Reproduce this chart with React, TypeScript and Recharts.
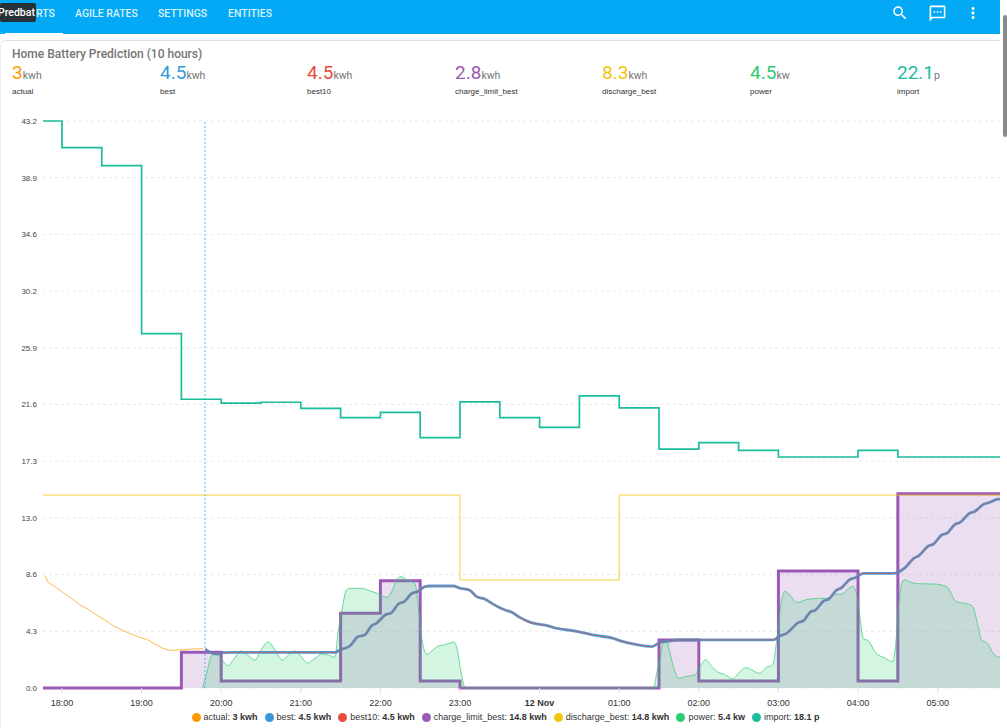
import { Area, CartesianGrid, ComposedChart, Legend, Line, ReferenceLine, XAxis, YAxis } from 'recharts'

type Point = [number, number]

// all times are minutes after 18:00 on 11 Nov
const startMinute = -14.3
const endMinute = 707
const nowMinute = 107.8

const timeTicks = [0, 60, 120, 180, 240, 300, 360, 420, 480, 540, 600, 660]
const timeLabels = ['18:00', '19:00', '20:00', '21:00', '22:00', '23:00', '12 Nov', '01:00', '02:00', '03:00', '04:00', '05:00']
const valueTicks = [0, 4.32, 8.64, 12.96, 17.28, 21.6, 25.92, 30.24, 34.56, 38.88, 43.2]

const navTabs = [
  { label: 'RTS', x: 36 },
  { label: 'AGILE RATES', x: 75 },
  { label: 'SETTINGS', x: 158 },
  { label: 'ENTITIES', x: 228 },
]

const summary = [
  { name: 'actual', value: '3', unit: 'kwh', color: '#ff9800', x: 12 },
  { name: 'best', value: '4.5', unit: 'kwh', color: '#3498db', x: 160 },
  { name: 'best10', value: '4.5', unit: 'kwh', color: '#e74c3c', x: 307 },
  { name: 'charge_limit_best', value: '2.8', unit: 'kwh', color: '#9b59b6', x: 455 },
  { name: 'discharge_best', value: '8.3', unit: 'kwh', color: '#f1c40f', x: 602 },
  { name: 'power', value: '4.5', unit: 'kw', color: '#2ecc71', x: 750 },
  { name: 'import', value: '22.1', unit: 'p', color: '#1abc9c', x: 897 },
]

const legendItems = [
  { label: 'actual:', value: '3 kwh', color: '#ff9800' },
  { label: 'best:', value: '4.5 kwh', color: '#3498db' },
  { label: 'best10:', value: '4.5 kwh', color: '#e74c3c' },
  { label: 'charge_limit_best:', value: '14.8 kwh', color: '#9b59b6' },
  { label: 'discharge_best:', value: '14.8 kwh', color: '#f1c40f' },
  { label: 'power:', value: '5.4 kw', color: '#2ecc71' },
  { label: 'import:', value: '18.1 p', color: '#1abc9c' },
]

const actual: Point[] = [
  [-12.6, 8.53], [-10.8, 8.1], [-5.3, 7.72], [1, 7.26], [7.3, 6.83], [13.6, 6.32], [19.8, 6.0], [26, 5.56],
  [32.4, 5.18], [38.7, 4.75], [45, 4.42], [51, 4.16], [57.5, 3.9], [64, 3.7], [70, 3.35], [76, 3.02],
  [81.4, 2.87], [89, 2.9], [98, 2.97], [106.5, 3.0],
]

const best: Point[] = [
  [108, 2.97], [111.6, 2.72], [117, 2.59], [121.6, 2.69], [130, 2.72], [206, 2.72], [209.5, 2.9], [217, 3.2],
  [223, 3.9], [228, 4.04], [233.5, 4.75], [237, 4.93], [243.5, 5.56], [248.5, 5.74], [253.5, 6.4], [258, 6.58],
  [263.6, 7.2], [268, 7.34], [273.6, 7.72], [277, 7.77], [295, 7.77], [300, 7.6], [307, 7.47], [312.6, 6.96],
  [319, 6.76], [324, 6.45], [330, 6.12], [334, 5.94], [339, 5.77], [345, 5.38], [353, 5.0], [365, 4.77],
  [373, 4.55], [388, 4.32], [400, 4.04], [415.6, 3.78], [423, 3.53], [433, 3.3], [444.5, 3.15], [451, 3.48],
  [458, 3.58], [464, 3.66], [536, 3.66], [541, 3.96], [546, 4.16], [555, 4.98], [559, 5.13], [564, 5.79],
  [568, 5.94], [574, 6.63], [578, 6.78], [584, 7.47], [587, 7.6], [594, 8.28], [598, 8.4], [604, 8.73],
  [627, 8.73], [635.5, 9.17], [642, 9.88], [645.5, 10.06], [653, 10.82], [657, 10.97], [663, 11.66], [667, 11.79],
  [673, 12.46], [677, 12.62], [684, 13.31], [687.6, 13.43], [694.6, 14.0], [699.5, 14.15], [704.6, 14.38], [707, 14.4],
]

const chargeLimit: Point[] = [
  [-14.3, 0], [90, 2.72], [120, 0.53], [210, 5.69], [240, 8.18], [270, 0.53], [300, 0], [450, 3.66],
  [480, 0.53], [540, 8.91], [600, 0.53], [630, 14.8], [707, 14.8],
]

const dischargeLimit: Point[] = [
  [-14.3, 14.7], [300, 8.23], [420, 14.7], [707, 14.7],
]

const power: Point[] = [
  [106, 0], [109, 1.1], [113, 2.5], [117, 2.6], [120, 2.26], [125, 1.7], [129, 2.13], [135, 2.82], [140, 2.5],
  [145.5, 2.13], [150, 2.9], [155.5, 3.5], [160.6, 2.9], [166, 2.13], [170.6, 2.5], [175, 2.82], [179.5, 2.5],
  [185, 1.9], [190.7, 2.26], [196, 2.6], [200.7, 2.5], [205.8, 2.34], [208, 4.16], [211, 5.94], [214.6, 7.5],
  [218, 7.6], [226, 7.6], [232, 7.4], [238, 7.2], [245, 6.9], [248.5, 7.34], [253, 8.36], [255.5, 8.48], [260, 8.23],
  [266, 7.97], [268.6, 6.2], [271, 3.9], [275, 2.57], [278.6, 2.82], [283.6, 3.2], [288.7, 3.3], [295.5, 3.5],
  [297.5, 3.1], [301, 1.1], [304, 0], [446, 0], [448, 1.0], [451, 2.4], [453, 3.4], [456, 3.53], [458, 2.77],
  [462, 1.24], [464.6, 0.74], [469.6, 0.86], [477, 1.0], [481, 1.62], [485, 2.16], [490, 1.62], [495, 1.17],
  [498.6, 1.07], [505.6, 0.71], [511, 1.24], [515.4, 1.55], [521, 1.32], [525.6, 1.12], [531, 1.58], [535.7, 1.75],
  [539, 3.9], [542, 6.45], [545, 7.36], [548, 7.14], [554, 6.52], [561, 6.73], [571, 6.83], [576, 6.83], [583, 7.14],
  [588, 7.16], [593, 7.6], [596, 7.75], [598.5, 7.34], [601, 5.7], [604, 3.78], [608, 3.58], [613.6, 2.64], [620, 2.31],
  [626, 2.0], [628, 2.9], [630.5, 6.2], [633, 7.97], [635, 8.25], [639, 8.1], [644, 7.95], [658, 7.92], [667, 7.7],
  [674, 6.58], [680.6, 6.45], [686, 6.27], [690, 4.93], [693, 3.66], [697, 3.45], [703, 2.5], [707, 2.34],
]

const importRate: Point[] = [
  [-14.3, 43.2], [0, 41.17], [30, 39.8], [60, 27.0], [90, 22.0], [120, 21.7], [150, 21.77], [180, 21.3], [210, 20.6],
  [240, 21.0], [270, 19.07], [300, 21.8], [330, 20.6], [360, 19.85], [390, 22.25], [420, 21.35], [450, 18.2],
  [480, 18.7], [510, 18.1], [540, 17.6], [600, 18.1], [630, 17.6], [707, 17.6],
]

const seriesByKey: Record<string, Point[]> = {
  actual,
  best,
  best10: best,
  chargeLimit,
  dischargeLimit,
  power,
  importRate,
}

const minutes = Array.from(new Set(Object.values(seriesByKey).flatMap(s => s.map(p => p[0])))).sort((a, b) => a - b)
const rows = minutes.map(t => {
  const row: Record<string, number> = { t }
  for (const key of Object.keys(seriesByKey)) {
    const hit = seriesByKey[key].find(p => p[0] === t)
    if (hit) row[key] = hit[1]
  }
  return row
})

function TimeTick({ x, y, payload }: any) {
  const label = timeLabels[timeTicks.indexOf(payload.value)]
  return (
    <text x={x} y={y + 11} textAnchor="middle" fontSize={9} fill="#333" fontWeight={label === '12 Nov' ? 700 : 400}>
      {label}
    </text>
  )
}

function ChartLegend() {
  return (
    <div style={{ display: 'flex', justifyContent: 'center', alignItems: 'center', height: 22, paddingLeft: 18, fontSize: 9, color: '#333', whiteSpace: 'nowrap' }}>
      {legendItems.map(item => (
        <span key={item.label} style={{ display: 'inline-flex', alignItems: 'center', marginRight: 7 }}>
          <span style={{ width: 9, height: 9, borderRadius: '50%', background: item.color, marginRight: 3 }} />
          <span>{item.label}&nbsp;<b style={{ fontWeight: 700 }}>{item.value}</b></span>
        </span>
      ))}
    </div>
  )
}

function NavBar() {
  return (
    <div style={{ position: 'absolute', left: 0, top: 0, width: 1000, height: 34, background: '#03a9f4' }}>
      {navTabs.map(tab => (
        <span key={tab.label} style={{ position: 'absolute', left: tab.x, top: 7, fontSize: 10.5, lineHeight: '14px', fontWeight: 500, color: 'rgba(255,255,255,0.85)' }}>
          {tab.label}
        </span>
      ))}
      <div style={{ position: 'absolute', left: 5, top: 33, width: 58, height: 1, background: '#fff' }} />
      <div style={{ position: 'absolute', left: 0, top: 3, width: 36, height: 19, background: '#263238', borderRadius: 2, color: '#fff', fontSize: 10.5, fontWeight: 500, lineHeight: '19px', overflow: 'hidden', whiteSpace: 'nowrap', textIndent: -2 }}>
        Predbat
      </div>
      <svg viewBox="0 0 24 24" width={18} height={18} style={{ position: 'absolute', left: 891, top: 4 }} fill="#fff">
        <path d="M15.5 14h-.79l-.28-.27C15.41 12.59 16 11.11 16 9.5 16 5.91 13.09 3 9.5 3S3 5.91 3 9.5 5.91 16 9.5 16c1.61 0 3.09-.59 4.23-1.57l.27.28v.79l5 4.99L20.49 19l-4.99-5zm-6 0C7.01 14 5 11.99 5 9.5S7.01 5 9.5 5 14 7.01 14 9.5 11.99 14 9.5 14z" />
      </svg>
      <svg viewBox="0 0 24 24" width={19} height={19} style={{ position: 'absolute', left: 928, top: 4 }} fill="#fff">
        <path d="M20 2H4c-1.1 0-2 .9-2 2v18l4-4h14c1.1 0 2-.9 2-2V4c0-1.1-.9-2-2-2zm0 14H5.17L4 17.17V4h16v12zM7 9h2v2H7zm4 0h2v2h-2zm4 0h2v2h-2z" />
      </svg>
      <svg viewBox="0 0 24 24" width={18} height={18} style={{ position: 'absolute', left: 964, top: 4 }} fill="#fff">
        <path d="M12 8c1.1 0 2-.9 2-2s-.9-2-2-2-2 .9-2 2 .9 2 2 2zm0 2c-1.1 0-2 .9-2 2s.9 2 2 2 2-.9 2-2-.9-2-2-2zm0 6c-1.1 0-2 .9-2 2s.9 2 2 2 2-.9 2-2-.9-2-2-2z" />
      </svg>
    </div>
  )
}

export default function App() {
  return (
    <div style={{ position: 'absolute', left: 0, top: 0, width: 1007, height: 728, overflow: 'hidden', background: '#fff', fontFamily: 'Roboto, sans-serif' }}>
      <NavBar />
      <div style={{ position: 'absolute', left: 0, top: 40, width: 1000, height: 700, borderTop: '1px solid #e0e0e0', borderLeft: '1px solid #efefef', borderTopLeftRadius: 6, boxSizing: 'border-box' }} />
      <div style={{ position: 'absolute', left: 1003, top: 15, width: 4, height: 122, background: '#8a8a8a', borderRadius: 2 }} />

      <div style={{ position: 'absolute', left: 12, top: 46, fontSize: 12, lineHeight: '16px', fontWeight: 500, color: '#757575' }}>
        Home Battery Prediction (10 hours)
      </div>
      {summary.map(item => (
        <div key={item.name} style={{ position: 'absolute', left: item.x, top: 62 }}>
          <div style={{ lineHeight: '22px', whiteSpace: 'nowrap' }}>
            <span style={{ fontSize: 19, color: item.color }}>{item.value}</span>
            <span style={{ fontSize: 10.5, color: '#757575' }}>{item.unit}</span>
          </div>
          <div style={{ fontSize: 8, lineHeight: '10px', marginTop: 0, color: '#333', fontFamily: '"Liberation Sans", Arial, sans-serif' }}>{item.name}</div>
        </div>
      ))}

      <div style={{ position: 'absolute', left: 0, top: 0, fontFamily: '"Liberation Sans", Arial, sans-serif' }}>
        <ComposedChart width={1000} height={728} data={rows} margin={{ top: 121, right: 0, bottom: 0, left: 0 }}>
          <CartesianGrid horizontal vertical={false} stroke="#ebebeb" strokeDasharray="3 3" />
          <XAxis
            dataKey="t"
            type="number"
            domain={[startMinute, endMinute]}
            ticks={timeTicks}
            interval={0}
            height={18}
            tick={<TimeTick />}
            tickLine={{ stroke: '#e0e0e0' }}
            tickSize={5}
            axisLine={false}
          />
          <YAxis
            width={43}
            type="number"
            domain={[0, 43.2]}
            ticks={valueTicks}
            interval={0}
            tickFormatter={(v: number) => v.toFixed(1)}
            tick={{ fontSize: 8, fill: '#444' }}
            tickLine={false}
            axisLine={false}
            tickMargin={0}
          />
          <Legend content={<ChartLegend />} verticalAlign="bottom" height={22} />
          <ReferenceLine x={nowMinute} stroke="#4fb8ee" strokeDasharray="2 2" />
          <Area type="stepAfter" dataKey="chargeLimit" stroke="#9b59b6" strokeWidth={3} fill="#9b59b6" fillOpacity={0.2} connectNulls dot={false} activeDot={false} isAnimationActive={false} />
          <Line type="monotone" dataKey="best" stroke="#3498db" strokeWidth={2.8} strokeOpacity={0.9} connectNulls dot={false} activeDot={false} isAnimationActive={false} />
          <Line type="monotone" dataKey="best10" stroke="#e74c3c" strokeWidth={1.2} strokeOpacity={0.6} connectNulls dot={false} activeDot={false} isAnimationActive={false} />
          <Area type="monotone" dataKey="power" stroke="#2ecc71" strokeWidth={1} strokeOpacity={0.7} fill="#2ecc71" fillOpacity={0.2} connectNulls dot={false} activeDot={false} isAnimationActive={false} />
          <Line type="linear" dataKey="actual" stroke="#ff9800" strokeWidth={1} strokeOpacity={0.7} connectNulls dot={false} activeDot={false} isAnimationActive={false} />
          <Line type="stepAfter" dataKey="dischargeLimit" stroke="#f1c40f" strokeWidth={1} strokeOpacity={0.8} connectNulls dot={false} activeDot={false} isAnimationActive={false} />
          <Line type="stepAfter" dataKey="importRate" stroke="#1abc9c" strokeWidth={1.7} connectNulls dot={false} activeDot={false} isAnimationActive={false} />
        </ComposedChart>
      </div>
    </div>
  )
}
